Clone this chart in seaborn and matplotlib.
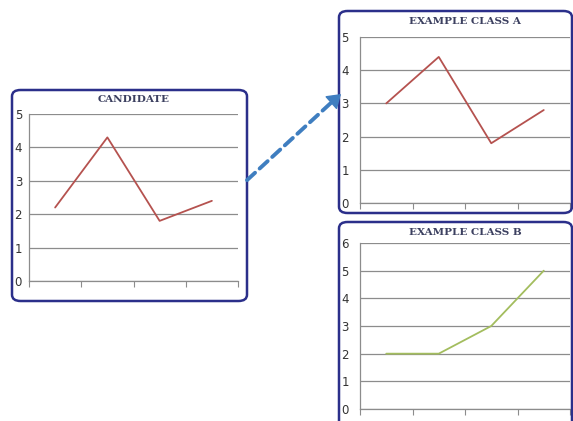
import matplotlib
matplotlib.use("Agg")
import matplotlib.pyplot as plt
import seaborn as sns
import pandas as pd
from matplotlib.patches import FancyBboxPatch, FancyArrowPatch

sns.set_theme(style="white")

# ---- data ----
points = [1, 2, 3, 4]
candidate_values = [2.2, 4.3, 1.8, 2.4]
class_a_values = [3.0, 4.4, 1.8, 2.8]
class_b_values = [2.0, 2.0, 3.0, 5.0]
titles = ["CANDIDATE", "EXAMPLE CLASS A", "EXAMPLE CLASS B"]
y_max = [5, 5, 6]

W, H = 573, 421
fig = plt.figure(figsize=(W / 100, H / 100), dpi=100)
fig.patch.set_facecolor("white")

def fx(px):
    return px / W

def fy(py):
    return 1 - py / H

BOX_COLOR = "#2b2f8a"
TITLE_COLOR = "#3c4060"
GRID_COLOR = "#8c8c8c"
ARROW_COLOR = "#3f7ec0"

def add_box(x0, y0, x1, y1):
    p = FancyBboxPatch((fx(x0), fy(y1)), fx(x1) - fx(x0), fy(y0) - fy(y1),
                       boxstyle="round,pad=0,rounding_size=0.015",
                       transform=fig.transFigure, fill=False,
                       edgecolor=BOX_COLOR, linewidth=1.8, zorder=5)
    fig.patches.append(p)

def add_panel(rect_px, values, color, title, ymax, title_y, pad):
    x0, y0, x1, y1 = rect_px
    ax = fig.add_axes([fx(x0), fy(y1), fx(x1) - fx(x0), fy(y0) - fy(y1)])
    df = pd.DataFrame({"x": points, "y": values})
    sns.lineplot(data=df, x="x", y="y", ax=ax, color=color, linewidth=1.3)
    ax.set_xlim(0.5, 4.5)
    ax.set_ylim(0, ymax)
    ax.set_xticks([0.5, 1.5, 2.5, 3.5, 4.5])
    ax.set_xticklabels([])
    ax.set_yticks(range(0, ymax + 1))
    ax.set_yticklabels([str(v) for v in range(0, ymax + 1)],
                       fontsize=8.5, color="#333333", family="DejaVu Sans")
    ax.yaxis.grid(True, color=GRID_COLOR, linewidth=0.9)
    ax.set_axisbelow(True)
    for s in ["top", "right"]:
        ax.spines[s].set_visible(False)
    ax.spines["left"].set_color(GRID_COLOR)
    ax.spines["bottom"].set_color(GRID_COLOR)
    ax.spines["left"].set_linewidth(0.9)
    ax.spines["bottom"].set_linewidth(0.9)
    ax.tick_params(axis="x", bottom=True, length=4, width=0.8, color=GRID_COLOR,
                   direction="out")
    ax.tick_params(axis="y", left=False, length=0, pad=pad)
    ax.set_xlabel("")
    ax.set_ylabel("")
    ax.patch.set_alpha(0)
    cx = (x0 + x1) / 2
    fig.text(fx(cx), fy(title_y), title, ha="center", va="center",
             fontsize=7.5, fontweight="bold", color=TITLE_COLOR,
             family="DejaVu Serif")
    return ax

add_panel((29, 114, 238, 281), candidate_values, "#b5524f", titles[0], y_max[0], 99, 5)
add_panel((360, 37, 570, 203), class_a_values, "#b5524f", titles[1], y_max[1], 22, 8)
add_panel((360, 243, 570, 409), class_b_values, "#a3bd5e", titles[2], y_max[2], 233, 8)

add_box(12, 90, 247, 301)
add_box(339, 11, 572, 213)
add_box(339, 222, 572, 428)

# dashed shaft
shaft = FancyArrowPatch((fx(245), fy(182)), (fx(333), fy(101)),
                        transform=fig.transFigure, arrowstyle="-",
                        linestyle=(0, (2.8, 1.6)), linewidth=2.8, color=ARROW_COLOR,
                        zorder=6)
fig.patches.append(shaft)
# solid head
head = FancyArrowPatch((fx(332), fy(102)), (fx(341), fy(94)),
                       transform=fig.transFigure,
                       arrowstyle="-|>,head_length=0.6,head_width=0.4",
                       mutation_scale=14, linewidth=1.0, color=ARROW_COLOR,
                       shrinkA=0, shrinkB=0, zorder=6)
fig.patches.append(head)

fig.savefig("out.png", dpi=100)
